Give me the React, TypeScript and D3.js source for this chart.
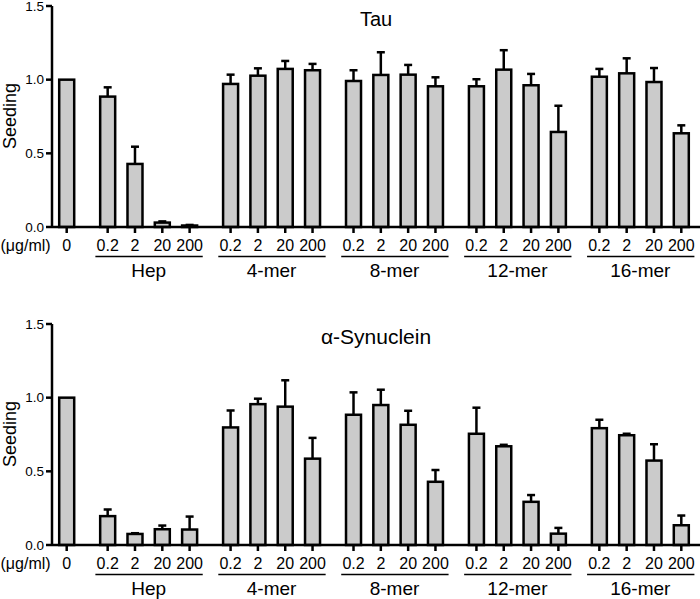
import React from 'react';
import * as d3 from 'd3';

// concentrations (ug/ml) and compound groups
const doses = ['0.2', '2', '20', '200'];
const groups = ['Hep', '4-mer', '8-mer', '12-mer', '16-mer'];
const controlLabel = '0';
const yTicks = [0, 0.5, 1.0, 1.5];

// first value = untreated control, then 4 doses per group
const tauMean = [1.0, 0.885, 0.428, 0.03, 0.01, 0.971, 1.027, 1.073, 1.064, 0.991, 1.032, 1.034, 0.955, 0.955, 1.068, 0.962, 0.645, 1.02, 1.043, 0.984, 0.636];
const tauSem = [0, 0.063, 0.117, 0.008, 0.004, 0.063, 0.05, 0.054, 0.043, 0.073, 0.154, 0.066, 0.061, 0.048, 0.132, 0.077, 0.178, 0.053, 0.102, 0.095, 0.054];
const synMean = [1.0, 0.196, 0.075, 0.107, 0.105, 0.798, 0.956, 0.939, 0.586, 0.884, 0.95, 0.816, 0.429, 0.755, 0.67, 0.293, 0.077, 0.793, 0.745, 0.573, 0.134];
const synSem = [0, 0.045, 0.005, 0.025, 0.088, 0.115, 0.037, 0.179, 0.141, 0.152, 0.104, 0.095, 0.08, 0.177, 0.01, 0.046, 0.039, 0.057, 0.01, 0.111, 0.066];

const font = '"Liberation Sans", Arial, Helvetica, sans-serif';

// slot position of each bar: control at 0, groups of 4 separated by 1.5 slots
const slots: number[] = [0];
groups.forEach((g, gi) => {
  doses.forEach((d, di) => slots.push(1.5 + gi * 4.5 + di));
});

const x = d3.scaleLinear().domain([0, 22.5]).range([66.7, 681.3]);
const barW = 15;

const Panel = ({ title, mean, sem, top }) => {
  const y = d3.scaleLinear().domain([0, 1.5]).range([top + 221, top]);
  const base = y(0);
  return (
    <g>
      <text x={376} y={top + 20} textAnchor="middle" fontSize={title === 'Tau' ? 20 : 21}>{title}</text>

      {/* bars with upward error bars */}
      {mean.map((m, i) => {
        const cx = x(slots[i]);
        const yt = y(m);
        const ye = y(m + sem[i]);
        return (
          <g key={i}>
            {sem[i] > 0 && (
              <g stroke="#000" strokeWidth={2.5}>
                <line x1={cx} x2={cx} y1={yt} y2={ye} />
                <line x1={cx - 4} x2={cx + 4} y1={ye} y2={ye} />
              </g>
            )}
            <rect x={cx - barW / 2} y={yt} width={barW} height={base - yt} fill="#cbcbcb" stroke="#000" strokeWidth={2.5} />
          </g>
        );
      })}

      {/* y axis */}
      <line x1={52} x2={52} y1={y(1.5)} y2={base} stroke="#000" strokeWidth={2.5} />
      {yTicks.map((t) => (
        <g key={t}>
          <line x1={46} x2={52} y1={y(t)} y2={y(t)} stroke="#000" strokeWidth={2.5} />
          <text x={44} y={y(t) + 4.5} textAnchor="end" fontSize={13.5}>{t.toFixed(1)}</text>
        </g>
      ))}
      <text transform={`translate(15.5, ${top + 110}) rotate(-90)`} textAnchor="middle" fontSize={18}>Seeding</text>

      {/* x axis */}
      <line x1={52} x2={700} y1={base} y2={base} stroke="#000" strokeWidth={2.5} />
      {slots.map((s, i) => (
        <line key={i} x1={x(s)} x2={x(s)} y1={base} y2={base + 6} stroke="#000" strokeWidth={2.5} />
      ))}
      <text x={0.5} y={base + 24} fontSize={16}>(μg/ml)</text>
      <text x={x(0)} y={base + 24} textAnchor="middle" fontSize={16}>{controlLabel}</text>
      {groups.map((g, gi) => {
        const first = 1.5 + gi * 4.5;
        return (
          <g key={g}>
            {doses.map((d, di) => (
              <text key={d} x={x(first + di)} y={base + 24} textAnchor="middle" fontSize={16}>{d}</text>
            ))}
            <line x1={x(first - 0.45)} x2={x(first + 3.48)} y1={base + 29.5} y2={base + 29.5} stroke="#000" strokeWidth={1.5} />
            <text x={x(first + 1.5)} y={base + 50} textAnchor="middle" fontSize={19}>{g}</text>
          </g>
        );
      })}
    </g>
  );
};

export default function App() {
  return (
    <div style={{ position: 'absolute', left: 0, top: 0 }}>
      <svg width={700} height={599} style={{ display: 'block', fontFamily: font }}>
        <rect width={700} height={599} fill="#fff" />
        <Panel title="Tau" mean={tauMean} sem={tauSem} top={6} />
        <Panel title="α-Synuclein" mean={synMean} sem={synSem} top={324} />
      </svg>
    </div>
  );
}
